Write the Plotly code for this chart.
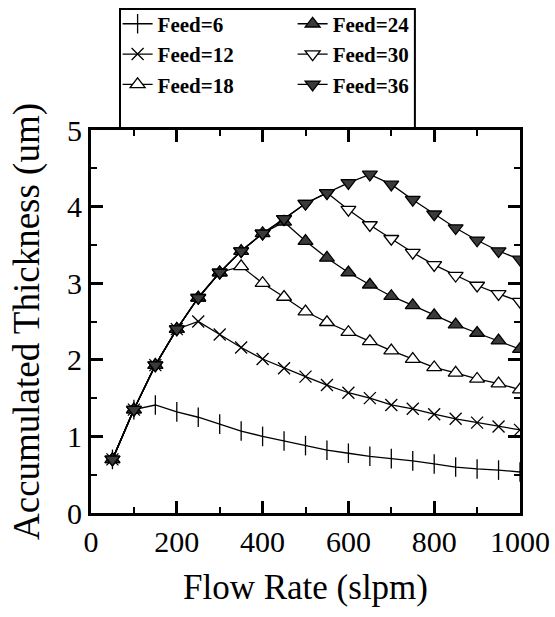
import plotly.graph_objects as go

flow_rate = [50, 100, 150, 200, 250, 300, 350, 400, 450, 500,
             550, 600, 650, 700, 750, 800, 850, 900, 950, 1000]

feed_6 = [0.70, 1.35, 1.41, 1.32, 1.25, 1.16, 1.07, 1.00, 0.94, 0.88,
          0.82, 0.78, 0.74, 0.71, 0.68, 0.64, 0.60, 0.575, 0.56, 0.535]
feed_12 = [0.70, 1.35, 1.93, 2.40, 2.50, 2.33, 2.16, 2.01, 1.89, 1.78,
           1.67, 1.57, 1.50, 1.41, 1.36, 1.29, 1.23, 1.18, 1.13, 1.085]
feed_18 = [0.70, 1.35, 1.93, 2.40, 2.81, 3.14, 3.22, 3.00, 2.82, 2.63,
           2.49, 2.36, 2.24, 2.12, 2.01, 1.90, 1.83, 1.75, 1.69, 1.61]
feed_24 = [0.70, 1.35, 1.93, 2.40, 2.81, 3.14, 3.42, 3.65, 3.80, 3.55,
           3.33, 3.14, 2.98, 2.83, 2.71, 2.58, 2.46, 2.35, 2.25, 2.14]
feed_30 = [0.70, 1.35, 1.93, 2.40, 2.81, 3.14, 3.42, 3.65, 3.84, 4.04,
           4.18, 3.96, 3.76, 3.58, 3.40, 3.24, 3.10, 2.97, 2.86, 2.76]
feed_36 = [0.70, 1.35, 1.93, 2.40, 2.81, 3.14, 3.42, 3.65, 3.84, 4.04,
           4.18, 4.31, 4.42, 4.29, 4.09, 3.90, 3.72, 3.56, 3.42, 3.31]

series_names = ["Feed=6", "Feed=12", "Feed=18", "Feed=24", "Feed=30", "Feed=36"]
series_values = [feed_6, feed_12, feed_18, feed_24, feed_30, feed_36]

x_ticks = [0, 200, 400, 600, 800, 1000]
y_ticks = [0, 1, 2, 3, 4, 5]

marker_styles = [
    dict(symbol="line-ns", size=14, color="black", line=dict(color="black", width=1.3)),
    dict(symbol="x-thin", size=12, color="black", line=dict(color="black", width=1.3)),
    dict(symbol="triangle-up", size=13, color="white", line=dict(color="black", width=1.3)),
    dict(symbol="triangle-up", size=13, color="#3a3a3a", line=dict(color="black", width=1.3)),
    dict(symbol="triangle-down", size=13, color="white", line=dict(color="black", width=1.3)),
    dict(symbol="triangle-down", size=13, color="#3a3a3a", line=dict(color="black", width=1.3)),
]
legend_ids = ["legend", "legend", "legend", "legend2", "legend2", "legend2"]

fig = go.Figure()
for name, vals, mk, lg in zip(series_names, series_values, marker_styles, legend_ids):
    fig.add_trace(go.Scatter(
        x=flow_rate, y=vals, name="<b>" + name + "</b>", mode="lines+markers",
        line=dict(color="black", width=1.3),
        marker=mk, legend=lg,
    ))

serif = "Liberation Serif"
axis_common = dict(
    showline=True, linewidth=3, linecolor="black", mirror="allticks",
    ticks="inside", ticklen=12, tickwidth=3, tickcolor="black",
    showgrid=False, zeroline=False,
    tickfont=dict(family=serif, size=30, color="black"),
)

fig.update_xaxes(
    range=[0, 1000], tickvals=x_ticks,
    minor=dict(ticks="inside", ticklen=6, tickwidth=1.5, tickcolor="black", dtick=100, tick0=0),
    title=dict(text="Flow Rate (slpm)", font=dict(family=serif, size=35, color="black"), standoff=18),
    **axis_common,
)
fig.update_yaxes(
    range=[0, 5], tickvals=y_ticks,
    minor=dict(ticks="inside", ticklen=6, tickwidth=1.5, tickcolor="black", dtick=0.5, tick0=0),
    title=dict(text="Accumulated Thickness (um)", font=dict(family=serif, size=37, color="black"), standoff=17),
    **axis_common,
)

legend_font = dict(family=serif, size=21, color="black")
fig.update_layout(
    width=555, height=617,
    font=dict(family=serif, color="black"),
    margin=dict(l=91, r=35, t=130, b=104, autoexpand=False),
    paper_bgcolor="white", plot_bgcolor="white",
    legend=dict(x=0.062, y=1.33, xanchor="left", yanchor="top",
                bgcolor="rgba(0,0,0,0)", font=legend_font, itemwidth=30),
    legend2=dict(x=0.47, y=1.33, xanchor="left", yanchor="top",
                 bgcolor="rgba(0,0,0,0)", font=legend_font, itemwidth=30),
    shapes=[dict(type="rect", xref="paper", yref="paper",
                 x0=0.0676, x1=0.755, y0=1.005, y1=1.316,
                 line=dict(color="black", width=2), fillcolor="rgba(0,0,0,0)")],
)

fig.write_html("out.html")
